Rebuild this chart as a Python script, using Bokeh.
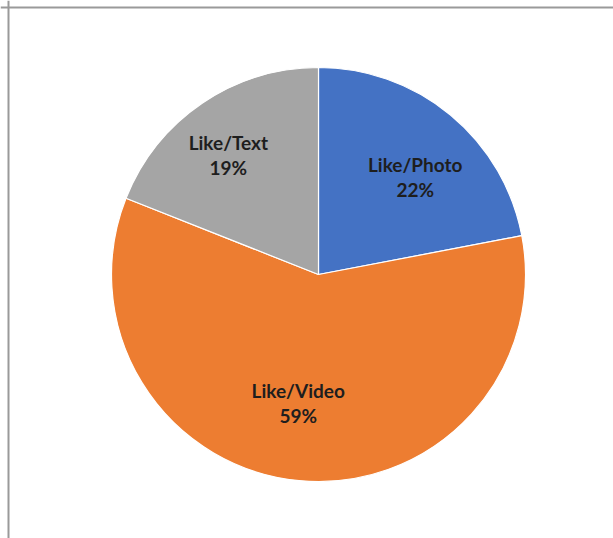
import math
from bokeh.plotting import figure
from bokeh.models import Span, ColumnDataSource, Range1d
from bokeh.core.properties import value
from bokeh.embed import file_html
from bokeh.resources import INLINE

categories = ["Like/Photo", "Like/Video", "Like/Text"]
shares = [22, 59, 19]
colors = ["#4472C4", "#ED7D31", "#A5A5A5"]

# label placement nudges (screen px: right, down)
nudge_x = [7, -7, -11]
nudge_y = [10, -12, -4]

W, H = 613, 538
cx, cy, R = 318, 538 - 274, 207

total = sum(shares)
starts, ends, lx, ly, pct = [], [], [], [], []
a = math.pi / 2
for s, nx, ny in zip(shares, nudge_x, nudge_y):
    sweep = 2 * math.pi * s / total
    starts.append(a)
    ends.append(a - sweep)
    mid = a - sweep / 2
    lx.append(cx + 0.68 * R * math.cos(mid) + nx)
    ly.append(cy + 0.68 * R * math.sin(mid) - ny)
    pct.append(f"{s}%")
    a -= sweep

src = ColumnDataSource(dict(cat=categories, start=starts, end=ends, color=colors,
                            lx=lx, ly=ly, pct=pct))

p = figure(width=W, height=H, output_backend="svg", toolbar_location=None,
           x_range=Range1d(0, W), y_range=Range1d(0, H), min_border=0)
p.axis.visible = False
p.grid.visible = False
p.outline_line_color = None
p.background_fill_color = "white"

p.wedge(x=cx, y=cy, radius=R, start_angle="start", end_angle="end", direction="clock",
        fill_color="color", line_color="white", line_width=1.2, source=src)

p.text(x="lx", y="ly", text="cat", source=src, text_align="center", text_baseline="middle",
       text_font=value("Lato"), text_font_style="bold", text_font_size="19px",
       text_color="#1e1e1e", y_offset=-12)
p.text(x="lx", y="ly", text="pct", source=src, text_align="center", text_baseline="middle",
       text_font=value("Lato"), text_font_style="bold", text_font_size="19px",
       text_color="#1e1e1e", y_offset=13)

p.add_layout(Span(location=H - 7, dimension="width", line_color="#9a9a9a", line_width=2))
p.add_layout(Span(location=8, dimension="height", line_color="#9a9a9a", line_width=2))

open("out.html", "w").write(file_html(p, INLINE))
